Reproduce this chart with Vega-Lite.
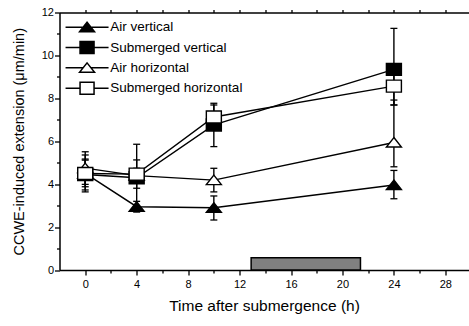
{
  "$schema": "https://vega.github.io/schema/vega-lite/v6.json",
  "width": 409,
  "height": 257.5,
  "autosize": {"type": "none"},
  "padding": {"left": 59.5, "top": 12.5, "right": 0, "bottom": 56},
  "config": {
    "view": {"stroke": null},
    "font": "Liberation Sans",
    "axis": {
      "grid": false,
      "domainColor": "black",
      "domainWidth": 1.5,
      "tickColor": "black",
      "tickWidth": 1.3,
      "labelColor": "black",
      "labelFont": "Liberation Sans",
      "labelFontSize": 11,
      "titleColor": "black",
      "titleFont": "Liberation Sans",
      "titleFontWeight": "normal",
      "titleFontSize": 14.5
    }
  },
  "datasets": {
    "extension": [
      {"series": "Air vertical", "t": 0, "y": 4.5, "lo": 3.88, "hi": 5.12},
      {"series": "Air vertical", "t": 4, "y": 2.95, "lo": 2.7, "hi": 3.2},
      {"series": "Air vertical", "t": 10, "y": 2.9, "lo": 2.33, "hi": 3.45},
      {"series": "Air vertical", "t": 24, "y": 3.96, "lo": 3.32, "hi": 4.64},
      {"series": "Submerged vertical", "t": 0, "y": 4.45, "lo": 3.73, "hi": 5.17},
      {"series": "Submerged vertical", "t": 4, "y": 4.3, "lo": 2.74, "hi": 5.86},
      {"series": "Submerged vertical", "t": 10, "y": 6.76, "lo": 5.75, "hi": 7.77},
      {"series": "Submerged vertical", "t": 24, "y": 9.35, "lo": 7.69, "hi": 11.26},
      {"series": "Air horizontal", "t": 0, "y": 4.75, "lo": 3.99, "hi": 5.51},
      {"series": "Air horizontal", "t": 4, "y": 4.4, "lo": 4.06, "hi": 4.74},
      {"series": "Air horizontal", "t": 10, "y": 4.19, "lo": 3.64, "hi": 4.74},
      {"series": "Air horizontal", "t": 24, "y": 5.94, "lo": 4.81, "hi": 7.92},
      {"series": "Submerged horizontal", "t": 0, "y": 4.5, "lo": 3.64, "hi": 5.36},
      {"series": "Submerged horizontal", "t": 4, "y": 4.47, "lo": 3.81, "hi": 5.13},
      {"series": "Submerged horizontal", "t": 10, "y": 7.13, "lo": 6.57, "hi": 7.69},
      {"series": "Submerged horizontal", "t": 24, "y": 8.57, "lo": 7.69, "hi": 9.45}
    ],
    "darkPeriod": [
      {"start": 12.9, "end": 21.4, "bottom": 0, "top": 0.57}
    ]
  },
  "layer": [
    {
      "data": {"name": "darkPeriod"},
      "mark": {"type": "rect", "fill": "#808080", "stroke": "black", "strokeWidth": 1.5},
      "encoding": {
        "x": {
          "field": "start", "type": "quantitative",
          "scale": {"domain": [-2, 29.8], "nice": false, "zero": false},
          "axis": {
            "orient": "bottom",
            "values": [0, 2, 4, 6, 8, 10, 12, 14, 16, 18, 20, 22, 24, 26, 28],
            "labelExpr": "datum.value % 4 === 0 ? datum.label : ''",
            "tickSize": {"condition": {"test": "datum.value % 4 === 0", "value": 5}, "value": 3},
            "labelPadding": 3,
            "title": "Time after submergence (h)",
            "titleFontSize": 15.5,
            "titlePadding": 9
          }
        },
        "x2": {"field": "end"},
        "y": {
          "field": "bottom", "type": "quantitative",
          "scale": {"domain": [0, 12], "nice": false},
          "axis": {
            "values": [0, 1, 2, 3, 4, 5, 6, 7, 8, 9, 10, 11, 12],
            "labelExpr": "datum.value % 2 === 0 ? datum.label : ''",
            "tickSize": {"condition": {"test": "datum.value % 2 === 0", "value": 5}, "value": 3},
            "labelPadding": 1,
            "title": "CCWE-induced extension (μm/min)",
            "titlePadding": 15
          }
        },
        "y2": {"field": "top"}
      }
    },
    {
      "data": {"name": "extension"},
      "mark": {"type": "rule", "color": "black", "strokeWidth": 1.4},
      "encoding": {
        "x": {"field": "t", "type": "quantitative", "axis": null},
        "y": {"field": "lo", "type": "quantitative", "axis": null},
        "y2": {"field": "hi"}
      }
    },
    {
      "data": {"name": "extension"},
      "mark": {"type": "tick", "orient": "horizontal", "color": "black", "size": 7, "thickness": 1.3, "opacity": 1},
      "encoding": {
        "x": {"field": "t", "type": "quantitative", "axis": null},
        "y": {"field": "lo", "type": "quantitative", "axis": null}
      }
    },
    {
      "data": {"name": "extension"},
      "mark": {"type": "tick", "orient": "horizontal", "color": "black", "size": 7, "thickness": 1.3, "opacity": 1},
      "encoding": {
        "x": {"field": "t", "type": "quantitative", "axis": null},
        "y": {"field": "hi", "type": "quantitative", "axis": null}
      }
    },
    {
      "data": {"name": "extension"},
      "mark": {"type": "line", "color": "black", "strokeWidth": 1.4},
      "encoding": {
        "x": {
          "field": "t", "type": "quantitative",
          "axis": {
            "orient": "top",
            "values": [0, 2, 4, 6, 8, 10, 12, 14, 16, 18, 20, 22, 24, 26, 28],
            "labels": false,
            "tickSize": 3,
            "title": null
          }
        },
        "y": {"field": "y", "type": "quantitative", "axis": null},
        "detail": {"field": "series"}
      }
    },
    {
      "data": {"name": "extension"},
      "mark": {"type": "point", "filled": true, "stroke": "black", "strokeWidth": 1.4, "size": 100, "opacity": 1},
      "encoding": {
        "x": {"field": "t", "type": "quantitative", "axis": null},
        "y": {"field": "y", "type": "quantitative", "axis": null},
        "shape": {
          "field": "series", "type": "nominal", "legend": null,
          "scale": {
            "domain": ["Air vertical", "Submerged vertical", "Air horizontal", "Submerged horizontal"],
            "range": ["M0,-1L1.5,0.9L-1.5,0.9Z", "M-1.5,-1.2H1.5V1.2H-1.5Z", "M0,-1L1.5,0.9L-1.5,0.9Z", "M-1.5,-1.2H1.5V1.2H-1.5Z"]
          }
        },
        "fill": {
          "field": "series", "type": "nominal", "legend": null,
          "scale": {
            "domain": ["Air vertical", "Submerged vertical", "Air horizontal", "Submerged horizontal"],
            "range": ["black", "black", "white", "white"]
          }
        }
      }
    },
    {
      "data": {"name": "extension"},
      "transform": [{"filter": "false"}],
      "mark": {"type": "point", "filled": true, "stroke": "black", "strokeWidth": 1.4, "size": 100, "opacity": 1},
      "encoding": {
        "x": {"field": "t", "type": "quantitative", "axis": null},
        "y": {"field": "y", "type": "quantitative", "axis": null},
        "shape": {
          "field": "series", "type": "nominal",
          "scale": {
            "domain": ["Air vertical", "Submerged vertical", "Air horizontal", "Submerged horizontal"],
            "range": [
              "M-4.3,0H-0.8M0.8,0H4.3M0,-1L1.5,0.9L-1.5,0.9Z",
              "M-4.3,0H-1.4M1.4,0H4.3M-1.4,-1.2H1.4V1.2H-1.4Z",
              "M-4.3,0H-0.8M0.8,0H4.3M0,-1L1.5,0.9L-1.5,0.9Z",
              "M-4.3,0H-1.4M1.4,0H4.3M-1.4,-1.2H1.4V1.2H-1.4Z"
            ]
          },
          "legend": {
            "title": null,
            "orient": "none",
            "legendX": 20.8,
            "legendY": 8,
            "padding": 0,
            "symbolSize": 100,
            "symbolOpacity": 1,
            "labelFont": "Liberation Sans",
            "labelFontSize": 13.5,
            "labelColor": "black",
            "labelOffset": 16.5,
            "rowPadding": 2.3,
            "encode": {
              "symbols": {
                "update": {
                  "stroke": {"value": "black"},
                  "strokeWidth": {"value": 1.4},
                  "opacity": {"value": 1}
                }
              }
            }
          }
        },
        "fill": {
          "field": "series", "type": "nominal",
          "scale": {
            "domain": ["Air vertical", "Submerged vertical", "Air horizontal", "Submerged horizontal"],
            "range": ["black", "black", "white", "white"]
          }
        }
      }
    }
  ],
  "resolve": {
    "scale": {"shape": "independent", "fill": "independent"},
    "axis": {"x": "independent", "y": "independent"}
  }
}
